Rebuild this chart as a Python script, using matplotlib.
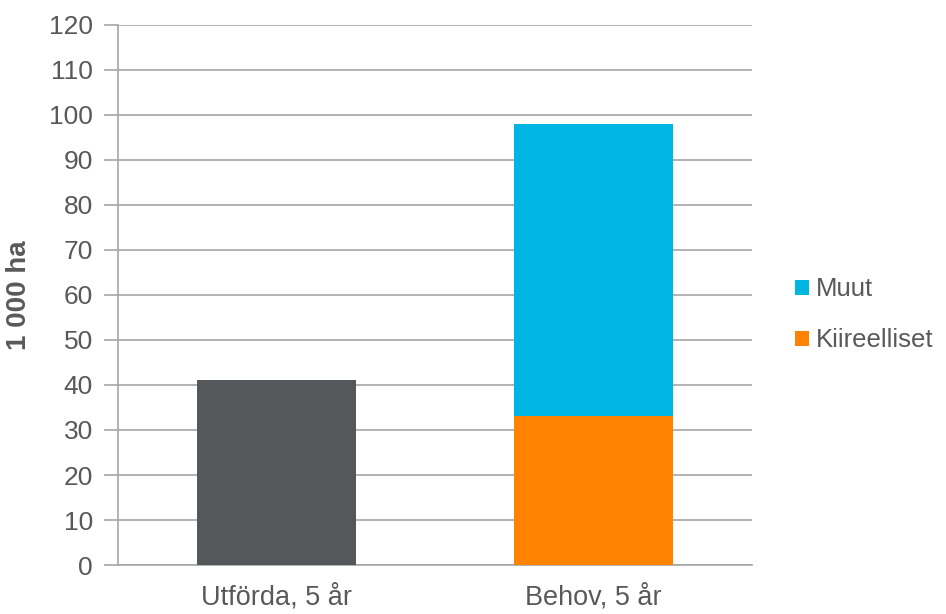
import numpy as np
import matplotlib.pyplot as plt

plt.rcParams['font.family'] = ['Liberation Sans', 'DejaVu Sans']

# --- Data ---
categories = ['Utförda, 5 år', 'Behov, 5 år']
utforda = [41, 0]
kiireelliset = [0, 33]
muut = [0, 65]

text_col = '#595959'
grid_col = '#A6A6A6'

fig = plt.figure(figsize=(9.46, 6.14), dpi=100)
ax = fig.add_axes([0.1247, 0.0798, 0.6702, 0.8795])

x = np.arange(len(categories))
w = 0.5
ax.bar(x[0], utforda[0], w, color='#54585A', zorder=3)
b_k = ax.bar(x[1], kiireelliset[1], w, color='#FF8200', zorder=3, label='Kiireelliset')
b_m = ax.bar(x[1], muut[1], w, bottom=kiireelliset[1], color='#00B5E2', zorder=3, label='Muut')

ax.set_xlim(-0.5, 1.5)
ax.set_ylim(0, 120)
ax.set_yticks(np.arange(0, 121, 10))
ax.set_xticks(x)
ax.set_xticklabels(categories)
ax.grid(axis='y', color=grid_col, lw=1.2, zorder=0)
ax.tick_params(axis='y', length=10, width=1.2, color=grid_col, labelsize=19, labelcolor=text_col, pad=8)
ax.tick_params(axis='x', length=0, labelsize=19.5, labelcolor=text_col, pad=14)
for s in ['top', 'right']:
    ax.spines[s].set_visible(False)
for s in ['left', 'bottom']:
    ax.spines[s].set_color(grid_col)
    ax.spines[s].set_linewidth(1.2)

ax.set_ylabel('1 000 ha', fontsize=20, fontweight='bold', color=text_col, labelpad=12)

leg = ax.legend(handles=[b_m, b_k], loc='center left', bbox_to_anchor=(1.052, 0.463),
                frameon=False, fontsize=18.5, handlelength=0.55, handleheight=0.55,
                handletextpad=0.25, labelspacing=1.05, borderaxespad=0)
for t in leg.get_texts():
    t.set_color(text_col)

plt.savefig('out.png', dpi=100)
plt.close()
